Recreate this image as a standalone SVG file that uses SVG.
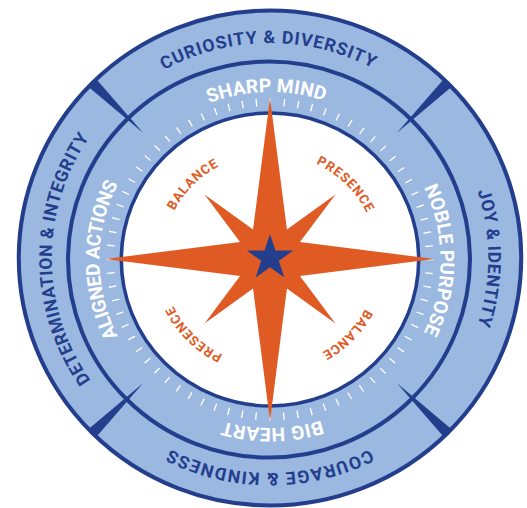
<svg xmlns="http://www.w3.org/2000/svg" width="527" height="508" viewBox="0 0 527 508">
<defs>
<style>
.ring{fill:#9bb8e0;stroke:#243e8e;stroke-width:4}
.line{fill:none;stroke:#243e8e;stroke-width:4}
.wedge{fill:#243e8e}
.outer{font-family:Roboto,"Liberation Sans",sans-serif;font-weight:700;font-size:17.5px;fill:#243e8e}
.inner{font-family:Roboto,"Liberation Sans",sans-serif;font-weight:700;font-size:19px;fill:#ffffff}
.small{font-family:Roboto,"Liberation Sans",sans-serif;font-weight:700;font-size:13px;fill:#e05a24}
</style>
<path id="pOuter" d="M270,473 A215,215 0 0 1 270,43 A215,215 0 0 1 270,473 A215,215 0 0 1 270,43"/>
<path id="pInner" d="M270,428 A168,168 0 0 1 270,92 A168,168 0 0 1 270,428 A168,168 0 0 1 270,92"/>
<path id="pSmall" d="M270,365.5 A106,106 0 0 1 270,153.5 A106,106 0 0 1 270,365.5 A106,106 0 0 1 270,153.5"/>
<polygon id="wedge" class="wedge" points="270,81 264.5,10 275.5,10"/>
</defs>
<g transform="matrix(1.015 0 0 1 -4.05 0)">
<g id="rings">
<circle class="ring" cx="270" cy="258" r="247.5"/>
<circle class="line" cx="269" cy="259.5" r="198"/>
</g>
<g id="separators">
<use href="#wedge" transform="rotate(45 270 258)"/>
<use href="#wedge" transform="rotate(135 270 258)"/>
<use href="#wedge" transform="rotate(225 270 258)"/>
<use href="#wedge" transform="rotate(315 270 258)"/>
</g>
<g id="compass-face">
<circle cx="270" cy="259.5" r="146.5" fill="#ffffff" stroke="#243e8e" stroke-width="3.5"/>
<circle cx="270" cy="259.5" r="157.3" fill="none" stroke="#ffffff" stroke-width="7.5" stroke-dasharray="1.3 12.427" stroke-dashoffset="0.65"/>
</g>
<g id="compass-rose">
<polygon fill="#e05a24" points="270,98 286.7,229.5 334.5,194.5 299.5,242 432,259 299.5,276 334.5,323.5 286.7,288.5 270,421 253.3,288.5 205.5,323.5 240.5,276 108,259 240.5,242 205.5,194.5 253.3,229.5"/>
<polygon fill="#243e8e" points="270,234 275.39,250.58 292.83,250.58 278.72,260.83 284.11,277.42 270,267.17 255.89,277.42 261.28,260.83 247.17,250.58 264.61,250.58"/>
</g>
<g id="outer-labels">
<text class="outer" text-anchor="middle"><textPath href="#pOuter" startOffset="33.24%" textLength="214" lengthAdjust="spacing">CURIOSITY &amp; DIVERSITY</textPath></text>
<text class="outer" text-anchor="middle"><textPath href="#pOuter" startOffset="50%" textLength="136" lengthAdjust="spacing">JOY &amp; IDENTITY</textPath></text>
<text class="outer" text-anchor="middle"><textPath href="#pOuter" startOffset="66.667%" textLength="204" lengthAdjust="spacing">COURAGE &amp; KINDNESS</textPath></text>
<text class="outer" text-anchor="middle"><textPath href="#pOuter" startOffset="16.6%" textLength="258" lengthAdjust="spacing">DETERMINATION &amp; INTEGRITY</textPath></text>
</g>
<g id="inner-labels">
<text class="inner" text-anchor="middle"><textPath href="#pInner" startOffset="33.11%" textLength="116" lengthAdjust="spacing">SHARP MIND</textPath></text>
<text class="inner" text-anchor="middle"><textPath href="#pInner" startOffset="50%" textLength="150" lengthAdjust="spacing">NOBLE PURPOSE</textPath></text>
<text class="inner" text-anchor="middle"><textPath href="#pInner" startOffset="66.53%" textLength="98" lengthAdjust="spacing">BIG HEART</textPath></text>
<text class="inner" text-anchor="middle"><textPath href="#pInner" startOffset="16.667%" textLength="158" lengthAdjust="spacing">ALIGNED ACTIONS</textPath></text>
</g>
<g id="small-labels">
<text class="small" text-anchor="middle"><textPath href="#pSmall" startOffset="24.89%" textLength="63" lengthAdjust="spacing">BALANCE</textPath></text>
<text class="small" text-anchor="middle"><textPath href="#pSmall" startOffset="41.57%" textLength="71" lengthAdjust="spacing">PRESENCE</textPath></text>
<text class="small" text-anchor="middle"><textPath href="#pSmall" startOffset="58.22%" textLength="61" lengthAdjust="spacing">BALANCE</textPath></text>
<text class="small" text-anchor="middle"><textPath href="#pSmall" startOffset="75%" textLength="70" lengthAdjust="spacing">PRESENCE</textPath></text>
</g>
</g>
</svg>
